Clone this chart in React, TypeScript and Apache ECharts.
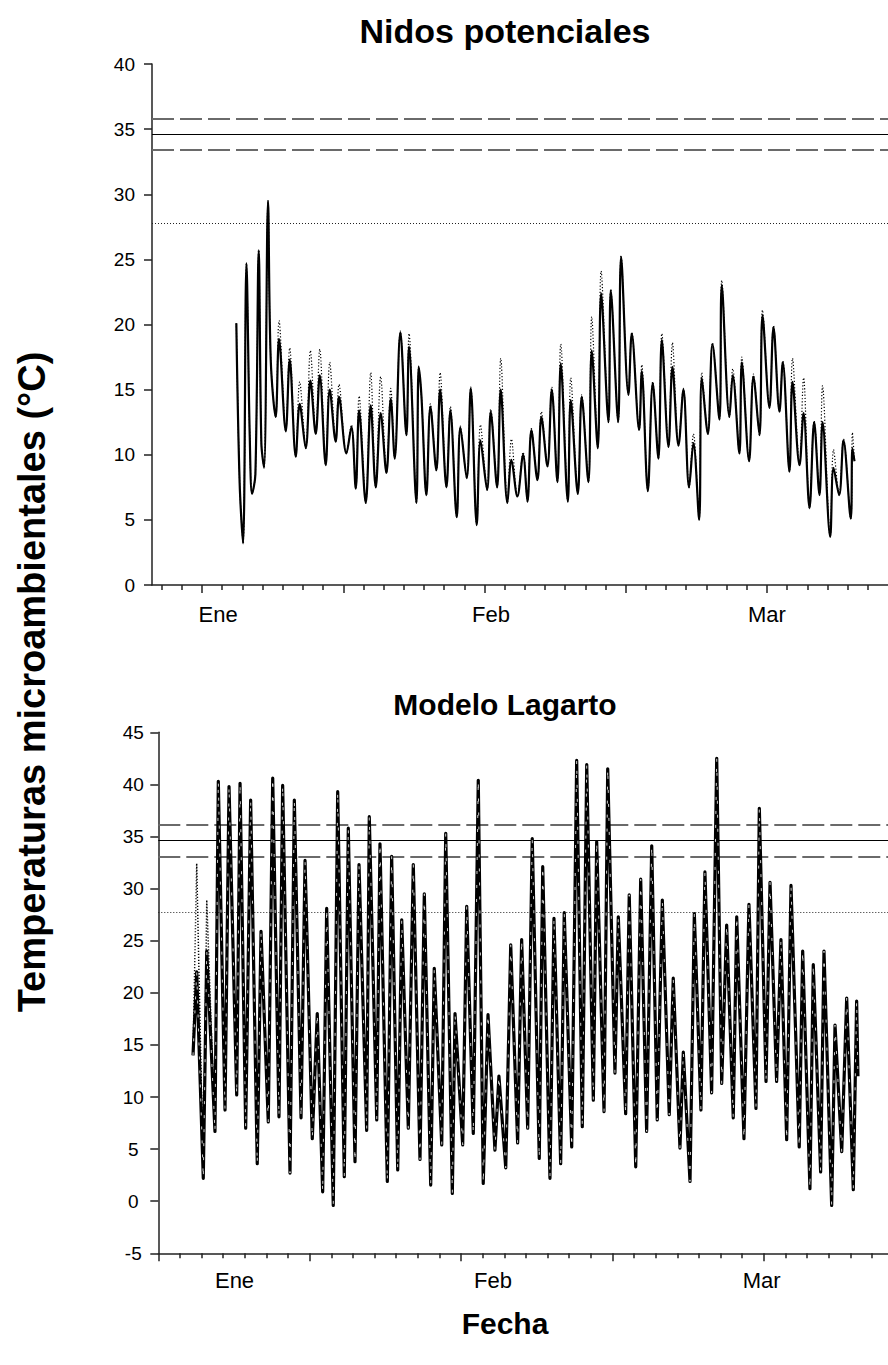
import React, { useEffect, useRef } from 'react';
import * as echarts from 'echarts';

const FONT = "Arial, 'Liberation Sans', Helvetica, sans-serif";

// ---------- Top panel: "Nidos potenciales" ----------
const topDays = [
  17.40, 17.73, 18.07, 18.40, 18.73, 18.96, 19.29, 19.62, 19.88, 20.15,
  20.54, 20.81, 21.30, 21.63, 22.30, 22.69, 23.29, 23.68, 24.28, 24.74,
  25.27, 25.67, 26.26, 26.66, 27.25, 27.58, 28.31, 28.81, 29.24, 29.57,
  30.23, 30.72, 31.22, 31.71, 32.28, 32.71, 33.10, 33.66, 34.26, 34.52,
  35.25, 35.48, 35.75, 36.24, 36.64, 37.23, 37.60, 38.23, 38.62, 39.25,
  39.61, 40.24, 40.64, 41.23, 41.60, 42.26, 42.62, 43.25, 43.61, 44.27,
  44.67, 45.26, 45.83, 46.26, 46.65, 47.25, 47.64, 48.24, 48.67, 49.23,
  49.56, 50.26, 50.55, 51.25, 51.64, 52.30, 52.63, 53.23, 53.56, 54.29,
  54.52, 55.25, 55.54, 56.27, 56.60, 57.33, 57.59, 58.19, 58.68, 59.24,
  59.58, 60.24, 60.63, 61.23, 61.72, 62.28, 62.71, 63.28, 63.54, 64.14,
  64.60, 65.29, 65.52, 66.28, 66.61, 67.27, 67.51, 68.23, 68.66, 69.26,
  69.56, 70.25, 70.65, 71.24, 71.57, 72.23, 72.53, 73.23, 73.63, 74.22,
  74.68, 75.21, 75.51, 76.27, 76.60, 77.16, 77.59, 78.31, 78.47, 78.68,
];
const topSolid = [
  20.1, 7.8, 3.2, 24.7, 11.4, 7.0, 8.5, 25.7, 10.9, 9.0,
  29.5, 17.3, 12.9, 18.9, 11.8, 17.3, 9.85, 13.9, 10.5, 15.7,
  11.6, 16.1, 9.2, 15.0, 11.0, 14.45, 10.1, 12.15, 7.4, 13.4,
  6.3, 13.8, 7.5, 13.2, 8.6, 14.3, 9.7, 19.4, 11.5, 18.3,
  6.3, 16.75, 14.5, 6.9, 13.7, 8.8, 15.0, 7.5, 13.4, 5.2,
  12.1, 8.2, 15.1, 4.6, 11.1, 7.3, 13.3, 7.5, 15.0, 6.3,
  9.6, 6.8, 10.0, 6.4, 11.9, 8.05, 12.9, 9.1, 15.0, 7.9,
  17.0, 6.4, 14.2, 7.0, 14.45, 7.9, 18.0, 10.5, 22.4, 12.5,
  22.6, 12.5, 25.2, 14.6, 19.3, 11.9, 16.4, 7.2, 15.5, 9.7,
  18.8, 10.6, 16.75, 10.7, 15.0, 7.5, 10.9, 5.0, 15.9, 11.6,
  18.5, 12.7, 23.0, 12.9, 16.1, 10.1, 17.1, 9.5, 16.0, 11.5,
  20.7, 13.6, 19.8, 13.3, 17.1, 8.7, 15.6, 9.2, 13.2, 5.9,
  12.5, 6.9, 12.5, 3.7, 9.0, 6.9, 11.1, 5.1, 10.5, 9.5,
];
const topDotted = [
  20.1, 7.8, 3.2, 24.7, 11.4, 7.0, 8.5, 25.7, 10.9, 9.0,
  29.5, 17.3, 12.9, 20.3, 11.8, 18.2, 9.85, 15.6, 10.5, 18.0,
  11.6, 18.1, 9.2, 17.1, 11.0, 15.4, 10.1, 12.3, 7.4, 14.5,
  6.3, 16.3, 7.5, 16.0, 8.6, 15.1, 9.7, 19.5, 11.5, 19.3,
  6.3, 16.8, 14.5, 6.9, 13.9, 8.8, 16.3, 7.5, 13.7, 5.2,
  12.2, 8.2, 15.2, 4.6, 12.3, 7.3, 13.5, 7.5, 17.4, 6.3,
  11.2, 6.8, 10.2, 6.4, 12.0, 8.05, 13.3, 9.1, 15.2, 7.9,
  18.5, 6.4, 15.9, 7.0, 14.6, 7.9, 20.6, 10.5, 24.1, 12.5,
  22.7, 12.5, 25.3, 14.6, 19.4, 11.9, 16.9, 7.2, 15.6, 9.7,
  19.3, 10.6, 18.6, 10.7, 15.1, 7.5, 11.6, 5.0, 16.3, 11.6,
  18.6, 12.7, 23.4, 12.9, 16.6, 10.1, 17.5, 9.5, 16.2, 11.5,
  21.1, 13.6, 19.9, 13.3, 17.2, 8.7, 17.4, 9.2, 15.9, 5.9,
  12.6, 6.9, 15.3, 3.7, 10.4, 6.9, 11.2, 5.1, 11.7, 9.5,
];
const topDashedRefs = [33.4, 35.8];
const topSolidRefs = [34.6];
const topDottedRefs = [27.8];
const topMajorTicks = [14, 28, 42, 56, 70];
const topMinorTicks = [10, 12, 16, 18, 20, 22, 24, 26, 30, 32, 34, 36, 38, 40, 44, 46, 48, 50, 52, 54, 58, 60, 62, 64, 66, 68, 72, 74, 76, 78, 80];
const topMonthPos = [15.6, 42.65, 70.0];

// ---------- Bottom panel: "Modelo Lagarto" ----------
const bottomDays = [
  3.21, 3.55, 4.16, 4.48, 5.24, 5.55, 6.17, 6.54, 7.25, 7.56,
  8.08, 8.54, 9.15, 9.50, 10.17, 10.58, 11.16, 11.50, 12.18, 12.58,
  13.20, 13.57, 14.24, 14.70, 15.20, 15.57, 16.18, 16.59, 17.20, 17.57,
  18.19, 18.56, 19.27, 19.51, 20.20, 20.50, 21.18, 21.58, 22.14, 22.51,
  23.12, 23.58, 24.20, 24.60, 25.19, 25.52, 26.21, 26.58, 27.19, 27.44,
  28.15, 28.52, 29.13, 29.59, 30.05, 30.49, 31.13, 31.50, 32.13, 32.59,
  33.23, 33.60, 34.16, 34.58, 35.23, 35.55, 36.22, 36.59, 37.21, 37.54,
  38.23, 38.69, 39.21, 39.62, 40.23, 40.54, 41.22, 41.56, 42.23, 42.54,
  43.22, 43.55, 44.15, 44.61, 45.16, 45.63, 46.14, 46.61, 47.25, 47.62,
  48.24, 48.55, 49.17, 49.57, 50.18, 50.55, 51.17, 51.64, 52.10, 52.56,
  53.17, 53.49, 54.16, 54.62, 55.27, 55.58, 56.20, 56.57, 57.18, 57.58,
  58.11, 58.51, 59.27, 59.59, 60.26, 60.57, 61.25, 61.56, 62.27, 62.58,
  63.20, 63.66, 64.27, 64.58, 64.70,
];
const bottomSolid = [
  14, 22, 2.2, 24, 6.7, 40.3, 8.75, 39.8, 10.2, 40.1,
  7.0, 38.5, 3.6, 25.9, 7.6, 40.6, 8.1, 39.9, 2.7, 38.5,
  8.0, 32.7, 6.0, 18.0, 0.9, 28.1, -0.4, 39.3, 2.35, 35.8,
  3.8, 32.3, 6.8, 36.9, 7.8, 34.3, 1.9, 33.1, 3.0, 27.0,
  7.0, 32.3, 4.0, 29.5, 1.55, 22.35, 5.4, 35.3, 0.75, 18.0,
  5.4, 28.3, 6.5, 40.4, 1.7, 17.9, 4.9, 12.0, 3.2, 24.6,
  5.6, 25.1, 7.0, 34.8, 4.1, 32.1, 2.2, 27.15, 3.6, 27.7,
  5.2, 42.3, 7.15, 41.9, 9.7, 34.5, 8.6, 41.5, 12.3, 27.3,
  8.4, 29.4, 3.3, 30.9, 6.7, 34.1, 7.8, 28.9, 8.3, 21.4,
  5.1, 14.3, 1.9, 27.6, 8.75, 31.6, 10.4, 42.5, 11.3, 26.5,
  8.0, 27.3, 6.0, 28.5, 8.9, 37.7, 11.5, 30.6, 11.5, 25.1,
  5.9, 30.3, 5.2, 24.0, 1.2, 22.7, 2.8, 24.0, -0.4, 16.9,
  4.75, 19.5, 1.1, 19.2, 12,
];
const bottomEarlyDays = [3.21, 3.55, 4.16, 4.48, 5.24, 5.55, 6.17];
const bottomEarlyDotted = [14, 32.4, 2.2, 28.9, 6.7, 40.3, 8.75];
const bottomDashedRefs = [33.1, 36.1];
const bottomSolidRefs = [34.6];
const bottomDottedRefs = [27.7];
const bottomMajorTicks = [0, 14, 28, 42, 56];
const bottomMinorTicks = [2, 4, 6, 8, 10, 12, 16, 18, 20, 22, 24, 26, 30, 32, 34, 36, 38, 40, 44, 46, 48, 50, 52, 54, 58, 60, 62, 64, 66];
const bottomMonthPos = [7.05, 30.95, 55.8];

const monthNames = ['Ene', 'Feb', 'Mar'];

const pairs = (xs: number[], ys: number[]) => xs.map((x, i) => [x, ys[i]]);

const refLines = (dashed: number[], solid: number[], dotted: number[]) => ({
  silent: true,
  symbol: 'none',
  z: 1,
  label: { show: false },
  emphasis: { disabled: true },
  data: [
    ...dashed.map((v) => ({ yAxis: v, lineStyle: { color: '#6a6a6a', width: 2, type: [22, 6] } })),
    ...solid.map((v) => ({ yAxis: v, lineStyle: { color: '#000', width: 1, type: 'solid' } })),
    ...dotted.map((v) => ({ yAxis: v, lineStyle: { color: '#222', width: 1, type: [1, 2] } })),
  ],
});

const axisLineStyle = { color: '#222', width: 1.5 };

function xAxes(gridIndex: number, min: number, max: number, major: number[], minor: number[], monthPos: number[], margin: number) {
  return [
    {
      gridIndex, type: 'value', min, max, position: 'bottom',
      axisLine: { show: true, onZero: false, lineStyle: axisLineStyle },
      axisTick: { show: true, customValues: major, length: 8, lineStyle: axisLineStyle },
      axisLabel: {
        show: true, customValues: monthPos, margin, color: '#000', fontSize: 22, fontFamily: FONT,
        formatter: (v: number) => {
          const i = monthPos.findIndex((p) => Math.abs(p - v) < 0.01);
          return i >= 0 ? monthNames[i] : '';
        },
      },
      splitLine: { show: false },
    },
    {
      gridIndex, type: 'value', min, max, position: 'bottom',
      axisLine: { show: false, onZero: false },
      axisTick: { show: true, customValues: minor, length: 5, lineStyle: axisLineStyle },
      axisLabel: { show: false },
      splitLine: { show: false },
    },
  ];
}

export default function App() {
  const ref = useRef<HTMLDivElement>(null);
  useEffect(() => {
    const chart = echarts.init(ref.current!, null, { renderer: 'svg' });
    const option: any = {
      animation: false,
      backgroundColor: '#fff',
      grid: [
        { left: 152, top: 64, right: 0, height: 521 },
        { left: 158.3, top: 732.3, right: 0, height: 521 },
      ],
      xAxis: [
        ...xAxes(0, 9.04, 82.0, topMajorTicks, topMinorTicks, topMonthPos, 18),
        ...xAxes(1, 0, 67.48, bottomMajorTicks, bottomMinorTicks, bottomMonthPos, 16),
      ],
      yAxis: [
        {
          gridIndex: 0, type: 'value', min: 0, max: 40, interval: 5,
          axisLine: { show: true, lineStyle: axisLineStyle },
          axisTick: { show: true, length: 8, lineStyle: axisLineStyle },
          axisLabel: { margin: 17, color: '#000', fontSize: 19, fontFamily: FONT },
          splitLine: { show: false },
        },
        {
          gridIndex: 1, type: 'value', min: -5, max: 45, interval: 5,
          axisLine: { show: true, lineStyle: axisLineStyle },
          axisTick: { show: true, length: 8, lineStyle: axisLineStyle },
          axisLabel: { margin: 25, align: 'center', color: '#000', fontSize: 19, fontFamily: FONT },
          splitLine: { show: false },
        },
      ],
      series: [
        {
          type: 'line', xAxisIndex: 0, yAxisIndex: 0, data: pairs(topDays, topDotted),
          symbol: 'none', smooth: 0.35,
          lineStyle: { color: '#000', width: 1.2, type: [1.2, 2] },
          markLine: refLines(topDashedRefs, topSolidRefs, topDottedRefs),
        },
        {
          type: 'line', xAxisIndex: 0, yAxisIndex: 0, data: pairs(topDays, topSolid),
          symbol: 'none', smooth: 0.35,
          lineStyle: { color: '#000', width: 2.2 },
        },
        {
          type: 'line', xAxisIndex: 2, yAxisIndex: 1, data: pairs(bottomEarlyDays, bottomEarlyDotted),
          symbol: 'none', smooth: false,
          lineStyle: { color: '#000', width: 1.5, type: [1.2, 1.8] },
          markLine: refLines(bottomDashedRefs, bottomSolidRefs, bottomDottedRefs),
        },
        {
          type: 'line', xAxisIndex: 2, yAxisIndex: 1, data: pairs(bottomDays, bottomSolid),
          symbol: 'none', smooth: false,
          lineStyle: { color: '#000', width: 3.2, join: 'round' },
        },
        {
          type: 'line', xAxisIndex: 2, yAxisIndex: 1, data: pairs(bottomDays, bottomSolid),
          symbol: 'none', smooth: false,
          lineStyle: { color: '#fff', width: 0.8, type: [3, 11] },
        },
      ],
      graphic: [
        { type: 'text', x: 505, y: 31, style: { text: 'Nidos potenciales', fill: '#000', font: `bold 34px ${FONT}`, align: 'center', verticalAlign: 'middle' } },
        { type: 'text', x: 505, y: 704, style: { text: 'Modelo Lagarto', fill: '#000', font: `bold 30px ${FONT}`, align: 'center', verticalAlign: 'middle' } },
        { type: 'text', x: 505, y: 1323, style: { text: 'Fecha', fill: '#000', font: `bold 30px ${FONT}`, align: 'center', verticalAlign: 'middle' } },
        { type: 'text', x: 32, y: 682, rotation: Math.PI / 2, style: { text: 'Temperaturas microambientales (°C)', fill: '#000', font: `bold 38px ${FONT}`, align: 'center', verticalAlign: 'middle' } },
      ],
    };
    chart.setOption(option);
    return () => chart.dispose();
  }, []);
  return (
    <div
      ref={ref}
      style={{ position: 'absolute', left: 0, top: 0, width: 888, height: 1365, background: '#fff' }}
    />
  );
}
